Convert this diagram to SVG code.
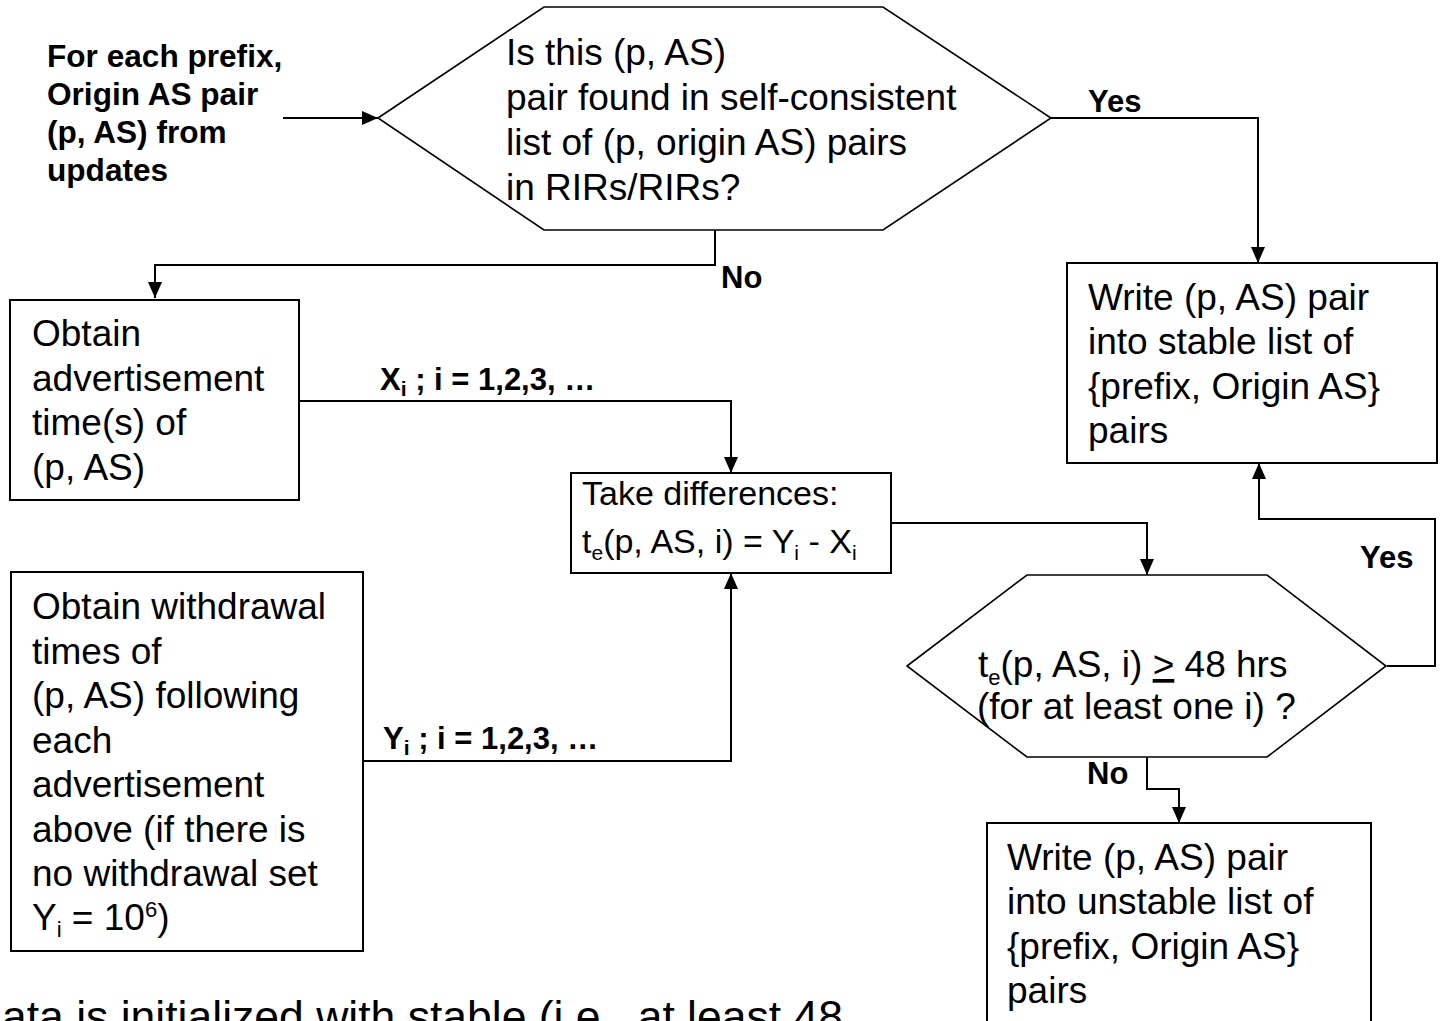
<svg xmlns="http://www.w3.org/2000/svg" width="1441" height="1021" viewBox="0 0 1441 1021">
  <defs>
    <marker id="arrow" markerUnits="userSpaceOnUse" markerWidth="16" markerHeight="14" refX="16" refY="7" orient="auto">
      <path d="M0,0 L16,7 L0,14 Z" fill="#000"/>
    </marker>
    <style>
      .box { fill: #fff; stroke: #000; stroke-width: 2; }
      .hex { fill: #fff; stroke: #000; stroke-width: 1.6; }
      .edge { fill: none; stroke: #000; stroke-width: 2; marker-end: url(#arrow); }
      .txt { font-family: "Liberation Sans", Arial, Helvetica, sans-serif; font-size: 37px; fill: #000; }
      .small { font-size: 34px; }
      .note { font-size: 44.5px; }
      .lbl { font-family: "Liberation Sans", Arial, Helvetica, sans-serif; font-size: 31px; font-weight: bold; fill: #000; }
      .start { font-size: 31.6px; }
      .u { text-decoration: underline; }
    </style>
  </defs>

  <rect width="1441" height="1021" fill="#fff"/>

  <!-- connectors -->
  <g id="connectors">
    <path class="edge" d="M283,118 H378"/>
    <path class="edge" d="M715,230 V265 H155 V298"/>
    <path class="edge" d="M1051,118 H1258 V263"/>
    <path class="edge" d="M299,401 H731 V473"/>
    <path class="edge" d="M363,761 H731 V573"/>
    <path class="edge" d="M891,523 H1147 V575"/>
    <path class="edge" d="M1387,666 H1435 V519 H1259 V463"/>
    <path class="edge" d="M1147,757 V789 H1179 V823"/>
  </g>

  <!-- connector labels -->
  <g id="edge-labels">
    <text class="lbl" x="1088" y="112">Yes</text>
    <text class="lbl" x="721" y="288">No</text>
    <text class="lbl" x="380" y="390">X<tspan font-size="21" dy="6">i</tspan><tspan dy="-6"> ; i = 1,2,3, …</tspan></text>
    <text class="lbl" x="383" y="749">Y<tspan font-size="21" dy="6">i</tspan><tspan dy="-6"> ; i = 1,2,3, …</tspan></text>
    <text class="lbl" x="1360" y="568">Yes</text>
    <text class="lbl" x="1087" y="784">No</text>
  </g>

  <!-- start: input pairs -->
  <g id="start">
    <text class="lbl start" x="47" y="67">For each prefix,</text>
    <text class="lbl start" x="47" y="105">Origin AS pair</text>
    <text class="lbl start" x="47" y="143">(p, AS) from</text>
    <text class="lbl start" x="47" y="181">updates</text>
  </g>

  <!-- decision: pair found in registry lists -->
  <g id="check-registry">
    <polygon class="hex" points="378,118 544,7 883,7 1051,118 883,230 544,230"/>
    <text class="txt" x="506" y="65">Is this (p, AS)</text>
    <text class="txt" x="506" y="110">pair found in self-consistent</text>
    <text class="txt" x="506" y="155">list of (p, origin AS) pairs</text>
    <text class="txt" x="506" y="200">in RIRs/RIRs?</text>
  </g>

  <!-- stable list output -->
  <g id="stable-list">
    <rect class="box" x="1067" y="263" width="370" height="200"/>
    <text class="txt" x="1088" y="310">Write (p, AS) pair</text>
    <text class="txt" x="1088" y="354">into stable list of</text>
    <text class="txt" x="1088" y="399">{prefix, Origin AS}</text>
    <text class="txt" x="1088" y="443">pairs</text>
  </g>

  <!-- advertisement times -->
  <g id="advertisement-times">
    <rect class="box" x="10" y="300" width="289" height="200"/>
    <text class="txt" x="32" y="346">Obtain</text>
    <text class="txt" x="32" y="391">advertisement</text>
    <text class="txt" x="32" y="435">time(s) of</text>
    <text class="txt" x="32" y="480">(p, AS)</text>
  </g>

  <!-- differences -->
  <g id="differences">
    <rect class="box" x="571" y="473" width="320" height="100"/>
    <text class="txt small" x="582" y="505">Take differences:</text>
    <text class="txt small" x="582" y="553">t<tspan font-size="21" dy="7">e</tspan><tspan dy="-7">(p, AS, i) = Y</tspan><tspan font-size="21" dy="7">i</tspan><tspan dy="-7"> - X</tspan><tspan font-size="21" dy="7">i</tspan></text>
  </g>

  <!-- withdrawal times -->
  <g id="withdrawal-times">
    <rect class="box" x="11" y="572" width="352" height="379"/>
    <text class="txt" x="32" y="619">Obtain withdrawal</text>
    <text class="txt" x="32" y="664">times of</text>
    <text class="txt" x="32" y="708">(p, AS) following</text>
    <text class="txt" x="32" y="753">each</text>
    <text class="txt" x="32" y="797">advertisement</text>
    <text class="txt" x="32" y="842">above (if there is</text>
    <text class="txt" x="32" y="886">no withdrawal set</text>
    <text class="txt" x="32" y="930">Y<tspan font-size="22" dy="7">i</tspan><tspan dy="-7"> = 10</tspan><tspan font-size="22" dy="-13">6</tspan><tspan dy="13">)</tspan></text>
  </g>

  <!-- decision: duration threshold -->
  <g id="check-duration">
    <polygon class="hex" points="907,666 1027,575 1267,575 1386,666 1267,757 1027,757"/>
    <text class="txt" x="978" y="677">t<tspan font-size="22" dy="8">e</tspan><tspan dy="-8">(p, AS, i) </tspan><tspan class="u">&gt;</tspan> 48 hrs</text>
    <text class="txt" x="977" y="719">(for at least one i) ?</text>
  </g>

  <!-- unstable list output -->
  <g id="unstable-list">
    <rect class="box" x="987" y="823" width="384" height="220"/>
    <text class="txt" x="1007" y="870">Write (p, AS) pair</text>
    <text class="txt" x="1007" y="914">into unstable list of</text>
    <text class="txt" x="1007" y="959">{prefix, Origin AS}</text>
    <text class="txt" x="1007" y="1003">pairs</text>
  </g>

  <!-- note below the chart -->
  <text class="txt note" x="2" y="1032">ata is initialized with stable (i.e., at least 48</text>
</svg>
